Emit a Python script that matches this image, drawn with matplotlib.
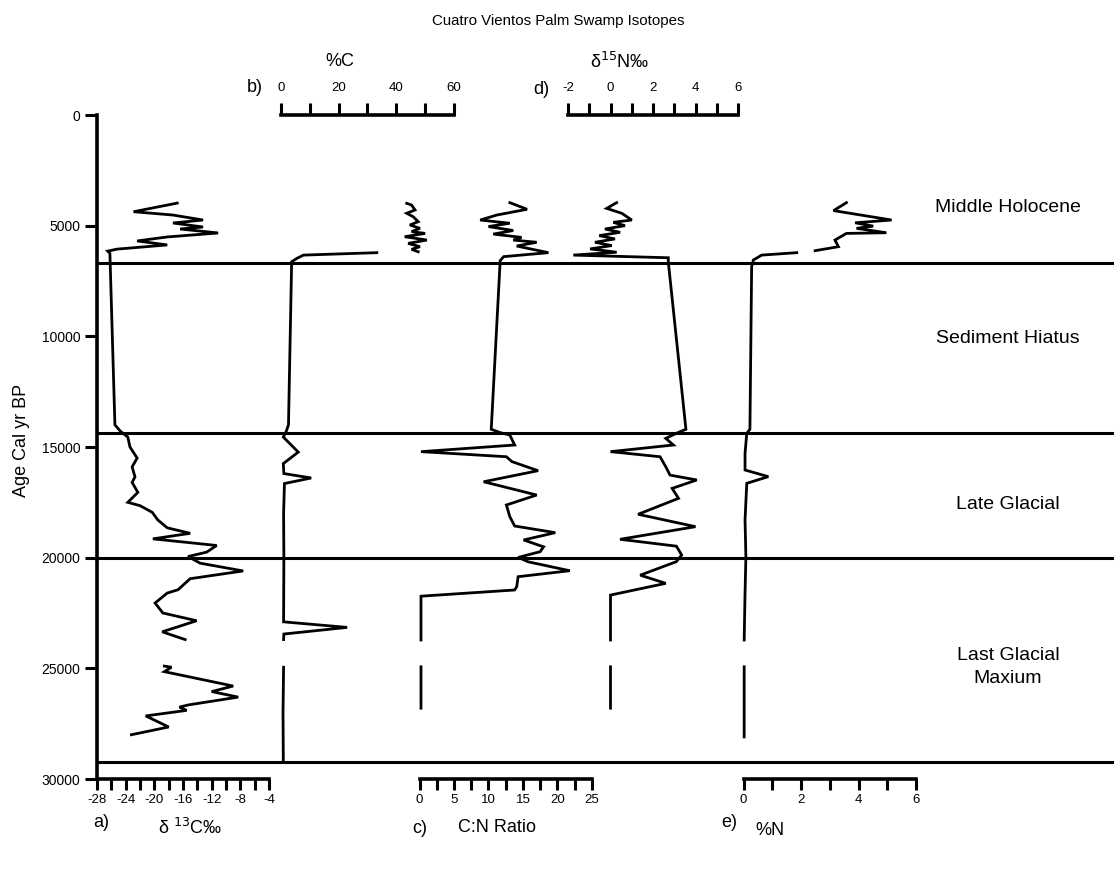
import numpy as np
import matplotlib
matplotlib.use("Agg")
import matplotlib.pyplot as plt

nan = np.nan

# ---------------- data ----------------
d13c_age = [3980, 4370, 4520, 4745, 4880, 5060, 5150, 5330, 5510, 5690, 5870, 6060, 6150, 6250,
            14000, 14300, 14550, 15000, 15500, 15900, 16350, 16600, 17050, 17500, 17650, 17950,
            18300, 18650, 18900, 19150, 19450, 19750, 19950, 20250, 20600, 20950, 21450, 21600,
            22050, 22500, 22850, 23350, 23700, nan,
            24900, 24950, 25150, 25800, 26050, 26300, 26650, 26750, 26900, 27150, 27650, 28000]
d13c_val = [-16.8, -22.9, -17.4, -13.2, -17.4, -13.2, -16.4, -11.1, -18.2, -22.4, -18.2, -25.2, -26.5, -26.2,
            -25.5, -24.7, -23.7, -23.4, -22.4, -23.1, -22.7, -23.1, -22.3, -23.7, -22.0, -20.3,
            -19.5, -18.2, -15.0, -20.2, -11.3, -12.7, -15.3, -13.6, -7.6, -15.0, -16.7, -18.2,
            -19.9, -18.8, -14.1, -18.9, -15.7, nan,
            -18.6, -17.6, -18.6, -9.0, -12.0, -8.3, -15.2, -16.5, -15.5, -21.2, -18.0, -23.2]

pc_age = [3990, 4070, 4290, 4440, 4600, 4820, 4970, 5120, 5270, 5350, 5500, 5650, 5800, 5950, 6070, 6180, nan,
          6220, 6330, 6480, 6630, 14000, 14300, 14550, 15230, 15750, 16200, 16400, 16650, 18000, 20000,
          22900, 23150, 23450, 23700, nan, 24950, 27000, 29150]
pc_val = [43.7, 45.4, 46.6, 43.7, 46.0, 47.7, 44.8, 48.3, 45.4, 50.1, 43.0, 50.7, 44.2, 48.3, 45.4, 47.7, nan,
          33.3, 7.8, 5.5, 3.7, 2.6, 1.8, 0.8, 6.0, 0.8, 1.0, 10.5, 1.2, 0.9, 1.0,
          0.9, 23.0, 1.0, 0.9, nan, 0.9, 0.7, 0.8]

cn_age = [3960, 4260, 4520, 4745, 4890, 5040, 5220, 5380, 5530, 5650, 5750, 5920, 6220, 6400, 6580,
          14200, 14350, 14460, 14910, 15210, 15440, 15660, 16070, 16570, 17170, 17620, 18150, 18570,
          18870, 19200, 19510, 19730, 19990, 20190, 20590, 20860, 21310, 21460, 21740, 23720, nan,
          24930, 26800]
cn_val = [13.1, 15.6, 11.2, 8.8, 13.1, 10.0, 13.6, 10.7, 14.8, 13.6, 17.0, 14.1, 18.7, 12.2, 11.7,
          10.4, 11.7, 13.1, 13.8, 0.2, 12.6, 13.4, 17.2, 9.3, 17.0, 12.6, 13.1, 13.8,
          19.7, 15.1, 18.0, 17.5, 14.3, 15.8, 21.8, 14.3, 14.1, 13.8, 0.2, 0.2, nan,
          0.2, 0.2]

d15n_age = [3960, 4220, 4440, 4745, 4850, 5000, 5150, 5300, 5450, 5600, 5750, 5900, 6050, 6200, 6330, 6450,
            6640, 14200, 14380, 14610, 14910, 15210, 15440, 15890, 16270, 16490, 16870, 17320, 18040,
            18600, 19170, 19480, 19880, 20180, 20790, 21160, 21690, 23720, nan, 24930, 26800]
d15n_val = [0.29, -0.18, 0.53, 1.0, 0.13, 0.68, -0.26, 0.45, -0.53, 0.21, -0.73, 0.06, -0.96, 0.29, -1.75, 2.72,
            2.72, 3.55, 3.1, 2.6, 2.96, 0.0, 2.33, 2.6, 2.8, 4.06, 2.9, 3.2, 1.3,
            4.0, 0.45, 3.1, 3.35, 3.1, 1.4, 2.6, 0.0, 0.0, nan, 0.0, 0.0]

pn_age = [3960, 4320, 4745, 4870, 5020, 5120, 5320, 5350, 5650, 5950, 6130, nan,
          6220, 6330, 6550, 6850, 14200, 14380, 15290, 16040, 16340, 16640, 18300, 19960, 21610, 23720, nan,
          24930, 28100]
pn_val = [3.58, 3.13, 5.15, 3.88, 4.51, 3.93, 4.97, 3.58, 3.18, 3.30, 2.49, nan,
          1.85, 0.63, 0.34, 0.28, 0.22, 0.11, 0.05, 0.05, 0.86, 0.11, 0.05, 0.08, 0.05, 0.02, nan,
          0.02, 0.02]

zone_bounds = [6700, 14350, 20000, 29250]
zone_names = ["Middle Holocene", "Sediment Hiatus", "Late Glacial", "Last Glacial\nMaxium"]
zone_label_age = [4200, 10100, 17600, 24950]

age_ticks = [0, 5000, 10000, 15000, 20000, 25000, 30000]
d13c_ticks = list(range(-28, -3, 2))
pc_ticks = list(range(0, 61, 10))
cn_ticks = [0, 2.5, 5, 7.5, 10, 12.5, 15, 17.5, 20, 22.5, 25]
d15n_ticks = list(range(-2, 7, 1))
pn_ticks = list(range(0, 7, 1))

# ---------------- layout ----------------
W, H = 1115, 871
NARROW = ['Liberation Sans Narrow', 'Liberation Sans', 'DejaVu Sans']
REG = ['Liberation Sans', 'DejaVu Sans']

fig = plt.figure(figsize=(W / 100, H / 100), dpi=100)
fig.patch.set_facecolor('white')

Y_TOP, Y_BOT = 115, 779


def make_ax(x0, x1):
    ax = fig.add_axes([x0 / W, 1 - Y_BOT / H, (x1 - x0) / W, (Y_BOT - Y_TOP) / H])
    ax.set_ylim(30000, 0)
    ax.patch.set_alpha(0)
    for s in ax.spines.values():
        s.set_visible(False)
    ax.tick_params(left=False, labelleft=False, bottom=False, labelbottom=False)
    return ax


LW_CURVE = 2.0
LW_AX = 2.6

# background axes for zone lines and labels
bg = make_ax(97, 1114)
bg.set_xlim(0, 1)
for b in zone_bounds:
    bg.axhline(b, color='black', lw=2.2)
for name, a in zip(zone_names, zone_label_age):
    bg.text((1008 - 97) / (1114 - 97), a, name, ha='center', va='center', fontsize=14,
            family=REG, linespacing=1.45)


def bottom_axis(ax, ticks, labels):
    ax.spines['bottom'].set_visible(True)
    ax.spines['bottom'].set_linewidth(LW_AX)
    ax.set_xticks(ticks)
    ax.set_xticklabels(labels, family=NARROW, fontsize=9.5)
    ax.tick_params(axis='x', bottom=True, labelbottom=True, direction='out', length=8, width=2.2, pad=3)


def top_axis(ax, ticks, labels):
    ax.spines['top'].set_visible(True)
    ax.spines['top'].set_linewidth(LW_AX)
    ax.set_xticks(ticks)
    ax.set_xticklabels(labels, family=NARROW, fontsize=9.5)
    ax.tick_params(axis='x', top=True, labeltop=True, bottom=False, labelbottom=False,
                   direction='out', length=9, width=2.2, pad=6)


# a) d13C
ax_a = make_ax(97, 269)
ax_a.set_xlim(-28, -4)
ax_a.spines['left'].set_visible(True)
ax_a.spines['left'].set_linewidth(LW_AX)
ax_a.set_yticks(age_ticks)
ax_a.set_yticklabels([str(t) for t in age_ticks], family=NARROW, fontsize=10)
ax_a.tick_params(axis='y', left=True, labelleft=True, direction='out', length=9, width=2.2, pad=3)
bottom_axis(ax_a, d13c_ticks, [str(t) if t % 4 == 0 else '' for t in d13c_ticks])
ax_a.plot(d13c_val, d13c_age, color='black', lw=LW_CURVE, clip_on=False, solid_joinstyle='miter')

# b) %C
ax_b = make_ax(281, 453.6)
ax_b.set_xlim(0, 60)
top_axis(ax_b, pc_ticks, [str(t) if t % 20 == 0 else '' for t in pc_ticks])
ax_b.plot(pc_val, pc_age, color='black', lw=LW_CURVE, clip_on=False, solid_joinstyle='miter')

# c) C:N
ax_c = make_ax(419.6, 591.8)
ax_c.set_xlim(0, 25)
bottom_axis(ax_c, cn_ticks, [('%d' % t) if t % 5 == 0 else '' for t in cn_ticks])
ax_c.plot(cn_val, cn_age, color='black', lw=LW_CURVE, clip_on=False, solid_joinstyle='miter')

# d) d15N
ax_d = make_ax(568, 738)
ax_d.set_xlim(-2, 6)
top_axis(ax_d, d15n_ticks, [str(t) if t % 2 == 0 else '' for t in d15n_ticks])
ax_d.plot(d15n_val, d15n_age, color='black', lw=LW_CURVE, clip_on=False, solid_joinstyle='miter')

# e) %N
ax_e = make_ax(743.6, 916)
ax_e.set_xlim(0, 6)
bottom_axis(ax_e, pn_ticks, [str(t) if t % 2 == 0 else '' for t in pn_ticks])
ax_e.plot(pn_val, pn_age, color='black', lw=LW_CURVE, clip_on=False, solid_joinstyle='miter')

# ---------------- texts ----------------
def ftext(px, py, s, size, fam=REG, **kw):
    fig.text(px / W, 1 - py / H, s, fontsize=size, family=fam, ha='center', va='center', **kw)


ftext(558, 21, 'Cuatro Vientos Palm Swamp Isotopes', 10.8, NARROW)
ftext(22, 440, 'Age Cal yr BP', 13, REG, rotation=90)
ftext(340, 62, '%C', 13, NARROW)
ftext(255, 88, 'b)', 13, REG)
ftext(620, 62, r'δ$^{15}$N‰', 13, REG)
ftext(541, 90, 'd)', 13, REG)
ftext(101, 822, 'a)', 13, REG)
ftext(190, 828, r'δ $^{13}$C‰', 13, REG)
ftext(420, 828, 'c)', 13, REG)
ftext(497, 827, 'C:N Ratio', 13, NARROW)
ftext(729, 822, 'e)', 13, REG)
ftext(770, 830, '%N', 13, NARROW)

fig.savefig('out.png', dpi=100, facecolor='white')
